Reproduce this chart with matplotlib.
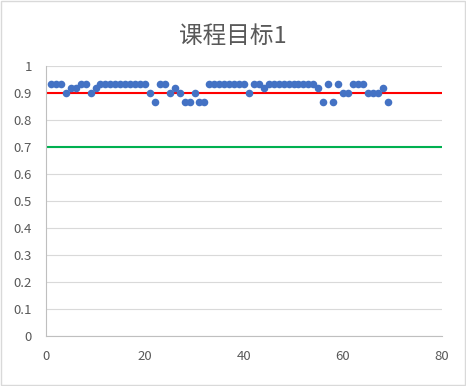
import matplotlib
matplotlib.use("Agg")
from matplotlib import pyplot as plt
from matplotlib.patches import Rectangle
import numpy as np

plt.rcParams['font.family'] = ['Noto Sans CJK SC', 'DejaVu Sans']

# student index and attainment for objective 1
students = list(range(1, 70))
scores = [0.933, 0.933, 0.933, 0.9, 0.917, 0.917, 0.933, 0.933, 0.9, 0.917,
          0.933, 0.933, 0.933, 0.933, 0.933, 0.933, 0.933, 0.933, 0.933, 0.933,
          0.9, 0.867, 0.933, 0.933, 0.9, 0.917, 0.9, 0.867, 0.867, 0.9,
          0.867, 0.867, 0.933, 0.933, 0.933, 0.933, 0.933, 0.933, 0.933, 0.933,
          0.9, 0.933, 0.933, 0.917, 0.933, 0.933, 0.933, 0.933, 0.933, 0.933,
          0.933, 0.933, 0.933, 0.933, 0.917, 0.867, 0.933, 0.867, 0.933, 0.9,
          0.9, 0.933, 0.933, 0.933, 0.9, 0.9, 0.9, 0.917, 0.867]
target = 0.9
threshold = 0.7
title = '课程目标1'

fig = plt.figure(figsize=(4.66, 3.86), dpi=100)
ax = fig.add_axes([46/466, 1 - 336/386, 396/466, 270/386])

ax.set_xlim(0, 80)
ax.set_ylim(0, 1)
ax.set_xticks([0, 20, 40, 60, 80])
ax.set_yticks(np.arange(0, 11) / 10)
ax.set_yticklabels(['0', '0.1', '0.2', '0.3', '0.4', '0.5', '0.6', '0.7', '0.8', '0.9', '1'])
ax.grid(axis='y', color='#d9d9d9', linewidth=0.8)
ax.set_axisbelow(True)

ax.axhline(target, color='#ff0000', linewidth=1.5, zorder=2)
ax.axhline(threshold, color='#00b050', linewidth=1.5, zorder=2)
ax.scatter(students, scores, s=30, color='#4472c4', zorder=3, linewidths=0)

for s in ['top', 'right']:
    ax.spines[s].set_visible(False)
for s in ['left', 'bottom']:
    ax.spines[s].set_color('#bfbfbf')
ax.tick_params(length=0, colors='#595959', labelsize=9.5)
ax.tick_params(axis='x', pad=10)
ax.tick_params(axis='y', pad=10)

fig.text(0.5, 1 - 36/386, title, ha='center', va='center', fontsize=17, color='#595959')
fig.patches.append(Rectangle((0.002, 0.002), 0.996, 0.996, transform=fig.transFigure,
                             fill=False, edgecolor='#d9d9d9', linewidth=1))

fig.savefig('out.png', dpi=100)
